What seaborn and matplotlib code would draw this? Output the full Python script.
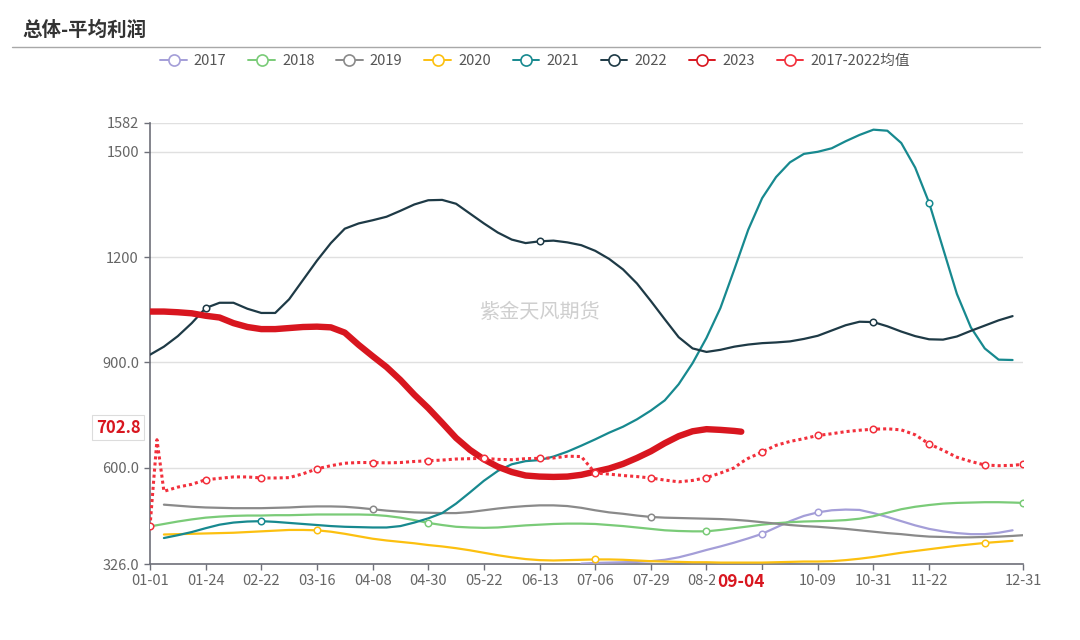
import numpy as np
import pandas as pd
import matplotlib
matplotlib.use("Agg")
import matplotlib.pyplot as plt
from matplotlib.lines import Line2D
import seaborn as sns

N = np.nan

# category index (trading-day position) of each sample
idx = [0, 2, 4, 8, 12] + list(range(16, 160, 4)) + [160, 164, 168, 170, 172] + list(range(176, 240, 4)) + [240, 244, 248, 251]

tick_pos = [0, 16, 32, 48, 64, 80, 96, 112, 128, 144, 160, 176, 192, 208, 224, 251]
# the label at 176 is hidden behind the current-date label in the reference
tick_labels = ["01-01", "01-24", "02-22", "03-16", "04-08", "04-30", "05-22", "06-13",
               "07-06", "07-29", "08-20", "", "10-09", "10-31", "11-22", "12-31"]

y_ticks = [326, 600, 900, 1200, 1500, 1582]
y_tick_labels = ["326.0", "600.0", "900.0", "1200", "1500", "1582"]

s2017 = [N, N, N, N, N,
         N, N, N, N,  N, N, N, N,  N, N, N, N,  N, N, N, N,  N, N, N, N,  N, N, N, N,
         N, N, N, 327,  329, 330, 331, 332,  334, 338, 345, 355,
         366, 376, 387, N, 399,
         412, 430, 448, 463,  473, 479, 481, 480,  471, 460, 448, 436,  426, 419, 414, 411,
         411, 415, 422, N]
s2018 = [433, N, 440, 447, 453,
         458, 461, 463, 464,  464, 465, 465, 466,  467, 467, 467, 467,  466, 463, 458, 451,
         443, 437, 432, 430,  429, 430, 433, 436,  438, 440, 441, 441,  440, 437, 434, 430,
         426, 422, 420, 419,
         419, 423, 428, N, 433,
         438, 442, 445, 447,  448, 449, 451, 455,  462, 472, 482, 489,  494, 498, 500, 501,
         502, 502, 501, 500]
s2019 = [N, N, 495, 492, 489,
         487, 486, 485, 485,  485, 486, 487, 489,  490, 490, 489, 486,  482, 478, 475, 473,
         472, 471, 471, 474,  479, 484, 488, 491,  493, 493, 491, 486,  479, 473, 469, 464,
         460, 458, 457, 456,
         455, 454, 452, N, 449,
         445, 441, 437, 434,  432, 429, 426, 422,  418, 414, 411, 407,  404, 403, 402, 402,
         403, 404, 406, 408]
s2020 = [N, N, 410, 411, 412,
         413, 414, 415, 417,  419, 421, 423, 423,  422, 418, 412, 405,  398, 393, 389, 385,
         380, 376, 371, 365,  358, 351, 345, 340,  337, 336, 337, 338,  339, 339, 338, 336,
         334, 333, 332, 331,
         331, 330, 330, N, 330,
         330, 331, 332, 333,  333, 334, 337, 341,  346, 352, 358, 363,  368, 373, 378, 382,
         386, 389, 392, N]
s2021 = [N, N, 400, 408, 417,
         428, 438, 444, 447,  448, 446, 443, 440,  437, 434, 432, 431,  430, 430, 434, 444,
         456, 471, 498, 530,  563, 591, 610, 619,  622, 632, 646, 663,  681, 700, 717, 738,
         763, 792, 838, 898,
         970, 1055, 1165, N, 1278,
         1368, 1428, 1470, 1494,  1500, 1510, 1530, 1548,  1563, 1560, 1525, 1455,
         1355, 1225, 1095, 1000,
         940, 908, 907, N]
s2022 = [922, N, 945, 975, 1012,
         1055, 1070, 1070, 1053,  1041, 1041, 1080, 1135,  1190, 1240, 1281, 1296,
         1305, 1315, 1332, 1350,  1362, 1363, 1352, 1324,  1296, 1270, 1250, 1240,
         1245, 1247, 1242, 1234,  1218, 1195, 1165, 1125,  1075, 1023, 972, 940,
         930, 936, 945, N, 951,
         955, 957, 960, 967,  976, 991, 1006, 1016,  1015, 1003, 988, 975,  966, 965, 974, 990,
         1005, 1020, 1032, N]
s2023 = [1045, N, 1045, 1043, 1040,
         1033, 1028, 1012, 1001,  995, 995, 998, 1001,  1002, 1000, 985, 950,
         918, 887, 850, 808,  770, 728, 685, 651,  624, 603, 588, 578,
         575, 574, 575, 580,  589, 598, 611, 628,  647, 670, 690, 704,
         710, 708, 705, 702.8, N,
         N, N, N, N,  N, N, N, N,  N, N, N, N,  N, N, N, N,
         N, N, N, N]
s_mean = [433, 680, 533, 545, 553,
          566, 570, 574, 574,  571, 571, 572, 583,  597, 606, 613, 615,  615, 614, 615, 618,
          620, 622, 625, 626,  627, 624, 623, 626,  627, 628, 633, 632,  585, 582, 578, 575,
          571, 565, 560, 564,
          572, 585, 600, 615, 627,
          645, 664, 675, 683,  692, 697, 703, 707,  710, 711, 708, 694,  668, 650, 630, 618,
          608, 606, 607, 610]

names = ["2017", "2018", "2019", "2020", "2021", "2022", "2023", "2017-2022均值"]
series = [s2017, s2018, s2019, s2020, s2021, s2022, s2023, s_mean]
for s in series:
    assert len(s) == len(idx), len(s)

colors = ["#a49ed8", "#7acb78", "#8a8a8a", "#fcc010", "#17898f", "#1e3a46", "#d8161f", "#f2303c"]
widths = [1.6, 1.6, 1.6, 1.6, 1.6, 1.6, 4.6, 2.2]
styles = ["-", "-", "-", "-", "-", "-", "-", (0, (1, 1))]
mark_at = [[176, 192], [80, 160, 251], [64, 144], [48, 128, 240], [32, 224],
           [16, 112, 208], [], tick_pos[:-1] + [240, 251]]

last_label = "09-04"
last_value = 702.8

sns.set_theme(style="white")
plt.rcParams["font.family"] = ["Noto Sans CJK SC", "DejaVu Sans"]
plt.rcParams["axes.unicode_minus"] = False

df = pd.DataFrame({"idx": idx})
for n, s in zip(names, series):
    df[n] = s

fig = plt.figure(figsize=(10.8, 6.4), dpi=100)
ax = fig.add_axes([150 / 1080, 76 / 640, 873 / 1080, 441 / 640])

for i, (n, c, lw, ls) in enumerate(zip(names, colors, widths, styles)):
    sns.lineplot(data=df, x="idx", y=n, ax=ax, color=c, linewidth=lw, linestyle=ls,
                 errorbar=None, legend=False, zorder=3 + i, dash_capstyle="butt")
    m = df[df["idx"].isin(mark_at[i])]
    if len(m):
        sns.scatterplot(data=m, x="idx", y=n, ax=ax, color="white", edgecolor=c,
                        linewidth=1.1, s=22, zorder=20 + i, legend=False)

ax.set_xlim(0, 251)
ax.set_ylim(326, 1582)
ax.set_xticks(tick_pos)
ax.set_xticklabels(tick_labels)
ax.set_yticks(y_ticks)
ax.set_yticklabels(y_tick_labels)
ax.set_xlabel("")
ax.set_ylabel("")
ax.grid(axis="y", color="#e0e0e0", linewidth=1)
ax.grid(axis="x", visible=False)
for sp in ["top", "right"]:
    ax.spines[sp].set_visible(False)
for sp in ["left", "bottom"]:
    ax.spines[sp].set_color("#6e7079")
    ax.spines[sp].set_linewidth(1.2)
ax.tick_params(axis="both", which="major", direction="out", length=4, width=1,
               color="#6e7079", labelcolor="#666666", labelsize=10.5, pad=3)
ax.tick_params(axis="y", pad=4, left=True)
ax.tick_params(axis="x", bottom=True)

# watermark
ax.text(0.5, 1 - 313 / 640, "紫金天风期货", transform=fig.transFigure, ha="center",
        va="center", fontsize=14.5, color="#cfcfcf", zorder=1)

# current value label on y axis
ax.annotate(f"{last_value:.1f}", xy=(0, last_value), xycoords=("axes fraction", "data"),
            xytext=(-7, 3), textcoords="offset points", ha="right", va="center",
            color="#d8161f", fontweight="bold", fontsize=12, zorder=40,
            bbox=dict(boxstyle="square,pad=0.22", fc="white", ec="#dcdcdc", lw=0.8),
            annotation_clip=False)

# current date label on x axis
last_idx = df["idx"][df["2023"].notna()].iloc[-1]
ax.annotate(last_label, xy=(last_idx, 326), xycoords="data", xytext=(0, -6.5),
            textcoords="offset points", ha="center", va="top", color="#d8161f",
            fontweight="bold", fontsize=12.5, zorder=40,
            bbox=dict(boxstyle="square,pad=0.15", fc="white", ec="none"),
            annotation_clip=False)

# title and rule
fig.text(22 / 1080, 1 - 30 / 640, "总体-平均利润", fontsize=14, fontweight="bold",
         color="#333333", ha="left", va="center")
fig.add_artist(Line2D([12 / 1080, 1040 / 1080], [1 - 47 / 640, 1 - 47 / 640],
                      transform=fig.transFigure, color="#a8a8a8", lw=1))

handles = [Line2D([0], [0], color=c, lw=1.4, marker="o", markersize=8,
                  markerfacecolor="white", markeredgecolor=c, markeredgewidth=1.2)
           for c in colors]
fig.legend(handles, names, loc="center", bbox_to_anchor=(535 / 1080, 1 - 61 / 640),
           ncol=8, frameon=False, fontsize=10.5, handlelength=1.8, handletextpad=0.5,
           columnspacing=1.5, labelcolor="#555555")

fig.savefig("out.png", dpi=100)
